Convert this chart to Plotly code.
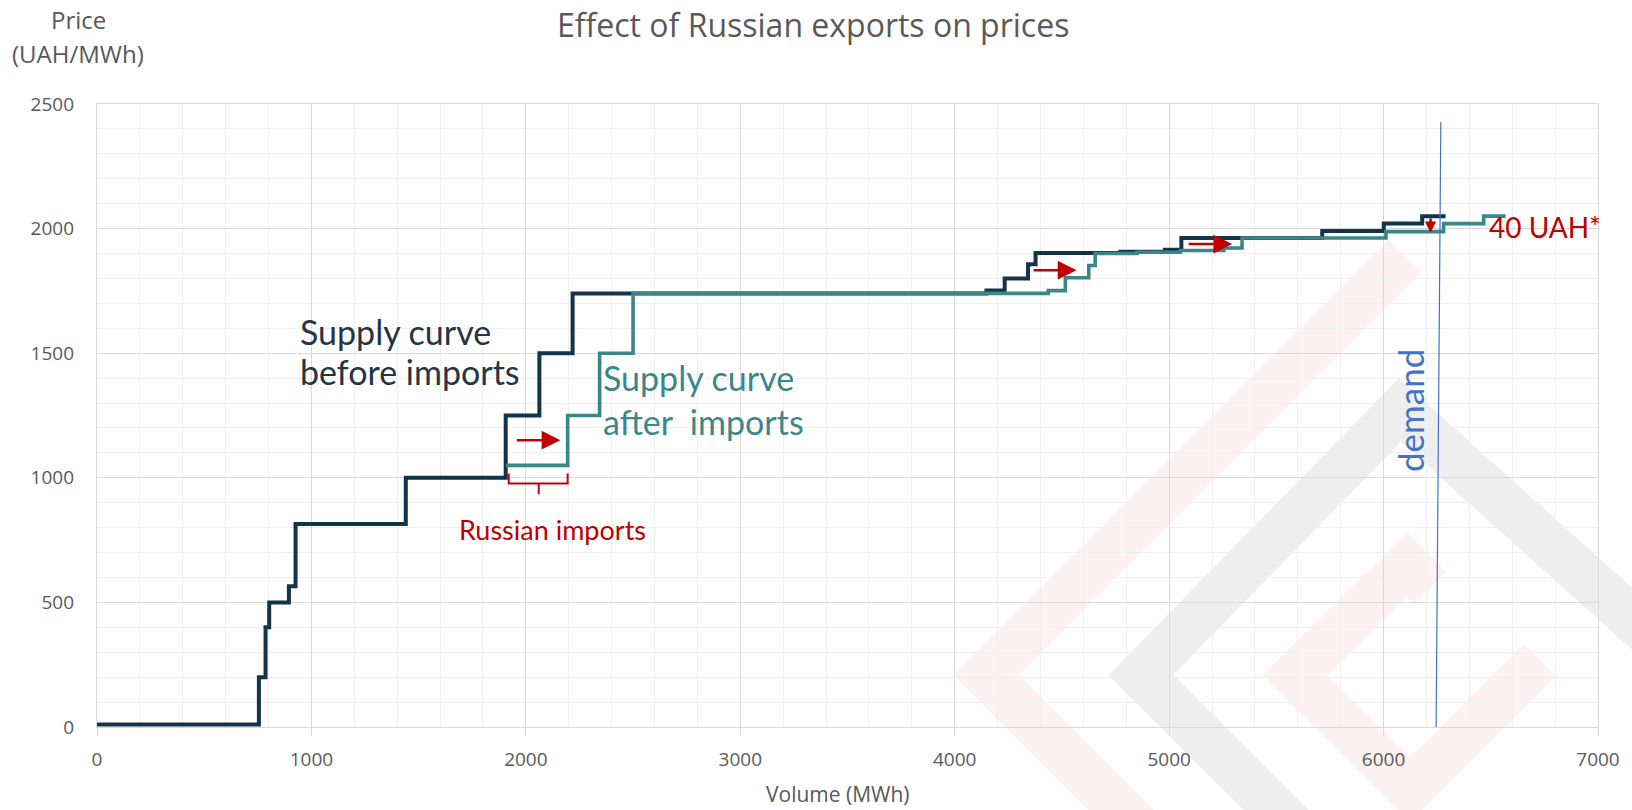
import plotly.graph_objects as go

# ---------------- data ----------------
# Supply curve before imports: volume where each price level starts, and the level
before_volume = [0, 755, 786, 803, 895, 926, 1440, 1906, 2063, 2218, 4148, 4233, 4342,
                 4377, 4773, 4980, 5057, 5714, 6001, 6180, 6289]
before_price = [10, 200, 400, 500, 565, 815, 1000, 1250, 1500, 1740, 1752, 1800, 1857,
                1902, 1907, 1915, 1962, 1990, 2020, 2050, 2050]

# Supply curve after imports
after_volume = [1906, 2195, 2344, 2500, 4436, 4516, 4625, 4655, 4850, 5053, 5255, 5340,
                6011, 6280, 6467, 6569]
after_price = [1050, 1250, 1500, 1740, 1751, 1803, 1852, 1900, 1905, 1912, 1922, 1962,
               1988, 2020, 2050, 2050]

# Demand line
demand_volume = [6245, 6267]
demand_price = [0, 2428]

# Russian imports bracket
bracket_volume = [1920, 1920, 2195, 2195, None, 2060, 2060]
bracket_price = [1017, 977, 977, 1017, None, 977, 934]

# Shift arrows (tail volume, tail price, head volume, head price, head size)
arrows = [
    (1951, 1151, 2161, 1151, 1.5),
    (4361, 1833, 4568, 1833, 1.5),
    (5084, 1938, 5294, 1938, 1.5),
    (6219, 2047, 6219, 1983, 0.9),
]

x_ticks = [0, 1000, 2000, 3000, 4000, 5000, 6000, 7000]
y_ticks = [0, 500, 1000, 1500, 2000, 2500]

# ---------------- figure ----------------
W, H = 1632, 810
L, R, T, B = 97, 34, 104, 83
PW, PH = W - L - R, H - T - B


def P(px, py):
    """window pixel -> paper coordinates"""
    return (px - L) / PW, (H - B - py) / PH


def path(points):
    s = ""
    for i, (px, py) in enumerate(points):
        x, y = P(px, py)
        s += ("M" if i == 0 else " L") + f" {x:.4f} {y:.4f}"
    return s


RED = "#C00000"
NAVY = "#12344a"
TEAL = "#3b8787"
BLUE = "#4472C4"
GRAY = "#595959"

fig = go.Figure()

fig.add_trace(go.Scatter(x=before_volume, y=before_price, mode="lines",
                         line=dict(shape="hv", color=NAVY, width=4),
                         name="Supply curve before imports", showlegend=False))
fig.add_trace(go.Scatter(x=after_volume, y=after_price, mode="lines",
                         line=dict(shape="hv", color=TEAL, width=3.6),
                         name="Supply curve after imports", showlegend=False))
fig.add_trace(go.Scatter(x=demand_volume, y=demand_price, mode="lines",
                         line=dict(color=BLUE, width=1.2),
                         name="demand", showlegend=False))
fig.add_trace(go.Scatter(x=bracket_volume, y=bracket_price, mode="lines",
                         line=dict(color=RED, width=2),
                         showlegend=False, hoverinfo="skip"))

# watermark (faint logo chevrons)
PINK_W = "#fdf1f1"
GRAY_W = "#eeeeee"
shapes = [
    dict(type="path", xref="paper", yref="paper", layer="below",
         path=path([(1160, 849), (986, 675), (1405, 256)]),
         line=dict(color=PINK_W, width=46)),
    dict(type="path", xref="paper", yref="paper", layer="below",
         path=path([(1315, 849), (1141, 675), (1400, 410), (1700, 680)]),
         line=dict(color=GRAY_W, width=46)),
    dict(type="path", xref="paper", yref="paper", layer="below",
         path=path([(1430, 588), (1407, 565), (1295, 675), (1410, 790), (1540, 660)]),
         line=dict(color=PINK_W, width=46)),
]

annotations = []
for (tx, ty, hx, hy, hs) in arrows:
    annotations.append(dict(x=hx, y=hy, ax=tx, ay=ty, xref="x", yref="y",
                            axref="x", ayref="y", text="", showarrow=True,
                            arrowhead=2, arrowsize=hs, arrowwidth=2.5,
                            arrowcolor=RED, standoff=0, startstandoff=0))


def txt(text, px, py, size, color, family="Lato", xanchor="left", angle=0):
    x, y = P(px, py)
    return dict(x=x, y=y, xref="paper", yref="paper", text=text, showarrow=False,
                xanchor=xanchor, yanchor="middle",
                align=xanchor if xanchor != "center" else "center",
                textangle=angle, font=dict(family=family, size=size, color=color))


annotations += [
    txt("Supply curve", 298, 331, 34, "#253545"),
    txt("before imports", 298, 371, 34, "#253545"),
    txt("Supply curve", 601, 377, 34, TEAL),
    txt("after&nbsp; imports", 601, 421, 34, TEAL),
    txt("Russian imports", 552, 529, 27, RED, xanchor="center"),
    txt("40 UAH*", 1487, 227, 28, RED),
    txt("demand", 1410, 411, 35, BLUE, xanchor="center", angle=-90),
    txt("Price", 78, 20, 24, GRAY, family="Open Sans", xanchor="center"),
    txt("(UAH/MWh)", 78, 53, 24, GRAY, family="Open Sans", xanchor="center"),
    txt("Volume (MWh)", 838, 794, 21, GRAY, family="Open Sans", xanchor="center"),
    txt("Effect of Russian exports on prices", 813, 24, 32, GRAY, family="Open Sans",
        xanchor="center"),
]

fig.update_layout(
    width=W, height=H,
    margin=dict(l=L, r=R, t=T, b=B),
    paper_bgcolor="white", plot_bgcolor="rgba(0,0,0,0)",
    shapes=shapes, annotations=annotations,
    font=dict(family="Open Sans", color=GRAY),
)
fig.update_xaxes(range=[0, 7000], tickvals=x_ticks, ticktext=[str(v) for v in x_ticks],
                 showgrid=True, gridcolor="#d9d9d9", gridwidth=1.3,
                 minor=dict(dtick=200, showgrid=True, gridcolor="#efefef", gridwidth=1),
                 showline=True, linecolor="#d9d9d9", linewidth=1.3, mirror=True,
                 ticks="outside", ticklen=8, tickcolor="#d9d9d9", tickwidth=1.3,
                 zeroline=False, ticklabelstandoff=7,
                 tickfont=dict(family="Open Sans", size=19, color=GRAY))
fig.update_yaxes(range=[0, 2500], tickvals=y_ticks, ticktext=[str(v) for v in y_ticks],
                 showgrid=True, gridcolor="#d9d9d9", gridwidth=1.3,
                 minor=dict(dtick=100, showgrid=True, gridcolor="#efefef", gridwidth=1),
                 showline=True, linecolor="#d9d9d9", linewidth=1.3, mirror=True,
                 zeroline=False, ticklabelstandoff=18,
                 tickfont=dict(family="Open Sans", size=19, color=GRAY))

# remove the default page margin so the figure fills the window exactly
fig.write_html("out.html", config={"displayModeBar": False},
               post_script="document.body.style.margin='0px';")
